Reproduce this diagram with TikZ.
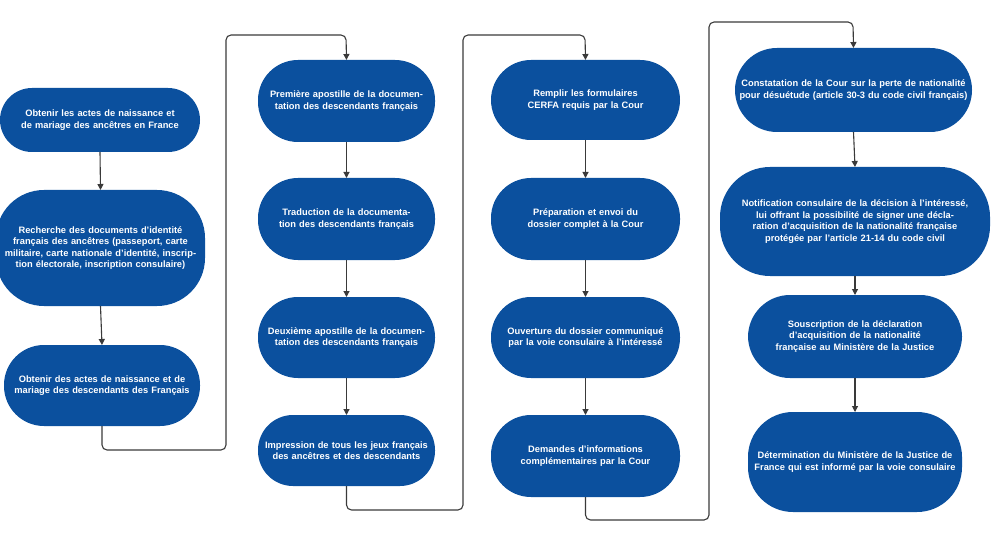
\documentclass[tikz,border=0pt]{standalone}
\usepackage{fontspec}
\setmainfont{Liberation Sans}
\usetikzlibrary{arrows.meta}
\definecolor{pillblue}{HTML}{0B509E}
\definecolor{linegrey}{HTML}{3A3A3A}
\tikzset{
  pill/.style={draw=none,fill=pillblue,text=white,font=\bfseries\fontsize{9.3}{11.5}\selectfont,
    align=center,inner sep=0pt},
  conn/.style={draw=linegrey,line width=1.1pt,-{Triangle[length=6pt,width=6pt]}}
}
\newcommand{\pillnode}[7]{%
  \path[pill,rounded corners=#6] (#2,#3) rectangle (#4,#5);
  \node[pill,fill=none,text width=#4pt-#2pt-6pt] (#1) at ({(#2+#4)/2},{(#3+#5)/2}) {#7};
  \coordinate (#1t) at ({(#2+#4)/2},#3);
  \coordinate (#1b) at ({(#2+#4)/2},#5);}
\begin{document}
\begin{tikzpicture}[x=1pt,y=-1pt]
\useasboundingbox (0,0) rectangle (992,545);
\pillnode{a1}{0}{88}{200}{152}{32}{Obtenir les actes de naissance et de mariage des ancêtres en France}
\pillnode{a2}{-4}{190}{205}{306}{48}{Recherche des documents d'identité français des ancêtres (passeport, carte militaire, carte nationale d'identité, inscription électorale, inscription consulaire)}
\pillnode{a3}{4}{345}{200}{426}{40}{Obtenir des actes de naissance et de mariage des descendants des Français}
\pillnode{b1}{258}{60}{435}{142}{40}{Première apostille de la documentation des descendants français}
\pillnode{b2}{258}{178}{435}{260}{40}{Traduction de la documentation des descendants français}
\pillnode{b3}{258}{297}{435}{378}{40}{Deuxième apostille de la documentation des descendants français}
\pillnode{b4}{258}{415}{435}{486}{35}{Impression de tous les jeux français des ancêtres et des descendants}
\pillnode{c1}{491}{60}{680}{140}{40}{Remplir les formulaires CERFA requis par la Cour}
\pillnode{c2}{491}{178}{680}{260}{40}{Préparation et envoi du dossier complet à la Cour}
\pillnode{c3}{491}{297}{680}{378}{40}{Ouverture du dossier communiqué par la voie consulaire à l'intéressé}
\pillnode{c4}{491}{415}{680}{497}{40}{Demandes d'informations complémentaires par la Cour}
\pillnode{d1}{735}{48}{972}{132}{42}{Constatation de la Cour sur la perte de nationalité pour désuétude (article 30-3 du code civil français)}
\pillnode{d2}{720}{167}{990}{276}{50}{Notification consulaire de la décision à l'intéressé, lui offrant la possibilité de signer une déclaration d'acquisition de la nationalité française protégée par l'article 21-14 du code civil}
\pillnode{d3}{748}{295}{962}{378}{42}{Souscription de la déclaration d'acquisition de la nationalité française au Ministère de la Justice}
\pillnode{d4}{748}{412}{962}{512}{45}{Détermination du Ministère de la Justice de France qui est informé par la voie consulaire}
\draw[conn] (a1b) -- (a2t);
\draw[conn] (a2b) -- (a3t);
\draw[conn] (b1b) -- (b2t);
\draw[conn] (b2b) -- (b3t);
\draw[conn] (b3b) -- (b4t);
\draw[conn] (c1b) -- (c2t);
\draw[conn] (c2b) -- (c3t);
\draw[conn] (c3b) -- (c4t);
\draw[conn] (d1b) -- (d2t);
\draw[conn] (d2b) -- (d3t);
\draw[conn] (d3b) -- (d4t);
\draw[conn,rounded corners=5pt] (a3b) |- (226,450) |- (346,35) -- (b1t);
\draw[conn,rounded corners=5pt] (b4b) |- (463,510) |- (585,35) -- (c1t);
\draw[conn,rounded corners=5pt] (c4b) |- (709,520) |- (853,22) -- (d1t);
\end{tikzpicture}
\end{document}
